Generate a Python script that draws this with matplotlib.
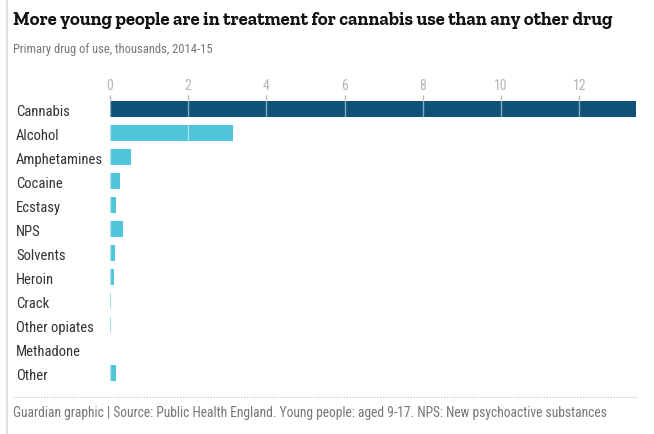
import matplotlib
matplotlib.use("Agg")
import matplotlib.pyplot as plt
from matplotlib.lines import Line2D
import matplotlib.transforms as mtrans

categories = ["Cannabis", "Alcohol", "Amphetamines", "Cocaine", "Ecstasy", "NPS",
              "Solvents", "Heroin", "Crack", "Other opiates", "Methadone", "Other"]
values = [13.45, 3.14, 0.54, 0.26, 0.15, 0.33, 0.13, 0.10, 0.03, 0.03, 0.0, 0.16]
xticks = [0, 2, 4, 6, 8, 10, 12]

title = "More young people are in treatment for cannabis use than any other drug"
subtitle = "Primary drug of use, thousands, 2014-15"
footer = "Guardian graphic | Source: Public Health England. Young people: aged 9-17. NPS: New psychoactive substances"

SANS = ["Roboto Condensed", "DejaVu Sans"]
SERIF = ["Zilla Slab", "Liberation Serif", "DejaVu Serif"]

W, H = 654, 434
fig = plt.figure(figsize=(W / 100, H / 100), dpi=100)
fig.patch.set_facecolor("white")
renderer = fig.canvas.get_renderer()

def fx(px):
    return px / W

def fy(py):
    return 1 - py / H

def fit_size(s, width_px, size=10, **kw):
    t = fig.text(0, 0, s, fontsize=size, **kw)
    for _ in range(4):
        w = t.get_window_extent(renderer=renderer).width
        size = size * width_px / w
        t.set_fontsize(size)
    t.remove()
    return size

ax = fig.add_axes([fx(110), fy(385), fx(636) - fx(110), fy(100) - fy(385)])
ypos = list(range(len(categories)))
colors = ["#0e527a"] + ["#4fc5da"] * (len(categories) - 1)
ax.barh(ypos, values, height=0.667, color=colors, zorder=1)
ax.set_xlim(0, 13.45)
ax.set_ylim(11.5, -0.375)
for s in ax.spines.values():
    s.set_visible(False)
ax.xaxis.tick_top()
ax.set_xticks(xticks)
ax.set_xticklabels([str(t) for t in xticks], family=SANS)
ax.tick_params(axis="x", which="both", top=True, bottom=False, direction="out",
               length=3.5, width=1, color="#bbbbbb", labelcolor="#b5b5b5",
               labelsize=10, pad=1.5)
ax.set_yticks([])
ax.set_axisbelow(False)
ax.grid(axis="x", color="white", linewidth=1, alpha=0.5, zorder=3)

label_size = fit_size("Amphetamines", 87, family=SANS)
trans = mtrans.blended_transform_factory(fig.transFigure, ax.transData)
for i, c in enumerate(categories):
    ax.text(fx(16), i + 0.06, c, transform=trans, ha="left", va="center_baseline",
            fontsize=label_size, color="#333333", family=SANS)

ts = fit_size(title, 599, family=SERIF, fontweight="bold")
fig.text(fx(13), fy(25), title, fontsize=ts, fontweight="bold", family=SERIF,
         color="#121212", va="baseline", ha="left")
ss = fit_size(subtitle, 201, family=SANS)
fig.text(fx(13), fy(50), subtitle, fontsize=ss, family=SANS, color="#767676",
         va="center", ha="left")
fs = fit_size(footer, 596, family=SANS)
fig.text(fx(13), fy(413), footer, fontsize=fs, family=SANS, color="#767676",
         va="center", ha="left")

fig.add_artist(Line2D([fx(13), fx(637)], [fy(396.5), fy(396.5)], transform=fig.transFigure,
                      color="#bdbdbd", linewidth=0.8, linestyle=(0, (1, 1.5))))
fig.add_artist(Line2D([fx(7), fx(7)], [0, 1], transform=fig.transFigure,
                      color="#dcdcdc", linewidth=1.2))

fig.savefig("out.png", dpi=100, facecolor="white")
